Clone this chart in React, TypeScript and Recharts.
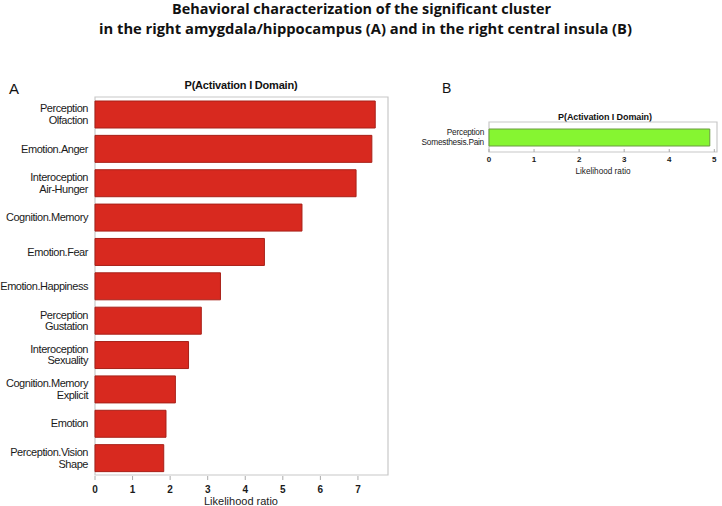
import React from 'react';
import { BarChart, Bar, XAxis, YAxis, ReferenceArea } from 'recharts';

const titleLines = [
  'Behavioral characterization of the significant cluster',
  'in the right amygdala/hippocampus (A) and in the right central insula (B)',
];
const panelTitle = 'P(Activation I Domain)';
const axisLabel = 'Likelihood ratio';

const categoriesA = [
  'Perception\nOlfaction',
  'Emotion.Anger',
  'Interoception\nAir-Hunger',
  'Cognition.Memory',
  'Emotion.Fear',
  'Emotion.Happiness',
  'Perception\nGustation',
  'Interoception\nSexuality',
  'Cognition.Memory\nExplicit',
  'Emotion',
  'Perception.Vision\nShape',
];
const valuesA = [7.46, 7.37, 6.95, 5.51, 4.51, 3.34, 2.83, 2.49, 2.14, 1.89, 1.83];
const ticksA = [0, 1, 2, 3, 4, 5, 6, 7];

const categoriesB = ['Perception\nSomesthesis.Pain'];
const valuesB = [4.9];
const ticksB = [0, 1, 2, 3, 4, 5];

const dataA = categoriesA.map((c, i) => ({ name: c, value: valuesA[i] }));
const dataB = categoriesB.map((c, i) => ({ name: c, value: valuesB[i] }));

const FONT = '"Liberation Sans", Arial, Helvetica, sans-serif';

const makeCatTick = (fontSize: number, lineH: number, spacing: number) => (props: any) => {
  const { x, y, payload } = props;
  const lines = String(payload.value).split('\n');
  const start = y - ((lines.length - 1) * lineH) / 2;
  return (
    <text
      x={x}
      y={start}
      textAnchor="end"
      fontFamily={FONT}
      fontSize={fontSize}
      letterSpacing={spacing}
      fill="#1a1a1a"
      dominantBaseline="central"
    >
      {lines.map((l, i) => (
        <tspan key={i} x={x} y={start + i * lineH}>
          {l}
        </tspan>
      ))}
    </text>
  );
};

export default function App() {
  return (
    <div
      style={{
        position: 'absolute',
        left: 0,
        top: 0,
        width: 722,
        height: 506,
        background: '#fff',
        overflow: 'hidden',
      }}
    >
      <svg width={722} height={506} style={{ position: 'absolute', left: 0, top: 0 }}>
        <text
          x={361.5}
          y={13.5}
          textAnchor="middle"
          fontFamily='"Open Sans", sans-serif'
          fontWeight="bold"
          fontSize={14}
          textLength={379}
          lengthAdjust="spacingAndGlyphs"
          fill="#111"
        >
          {titleLines[0]}
        </text>
        <text
          x={365.5}
          y={33.5}
          textAnchor="middle"
          fontFamily='"Open Sans", sans-serif'
          fontWeight="bold"
          fontSize={14}
          textLength={533}
          lengthAdjust="spacingAndGlyphs"
          fill="#111"
        >
          {titleLines[1]}
        </text>
        <text x={9} y={94} fontFamily={FONT} fontSize={15} fill="#111">
          A
        </text>
        <text x={442} y={93} fontFamily={FONT} fontSize={14} fill="#111">
          B
        </text>
        <text x={241} y={89} textAnchor="middle" fontFamily={FONT} fontWeight="bold" fontSize={11} letterSpacing={-0.2} fill="#111">
          {panelTitle}
        </text>
        <text x={241} y={505} textAnchor="middle" fontFamily={FONT} fontSize={11} fill="#222">
          {axisLabel}
        </text>
        <text x={605} y={120} textAnchor="middle" fontFamily={FONT} fontWeight="bold" fontSize={9} letterSpacing={-0.1} fill="#111">
          {panelTitle}
        </text>
        <text x={603} y={174} textAnchor="middle" fontFamily={FONT} fontSize={8.2} fill="#222">
          {axisLabel}
        </text>
      </svg>

      <div style={{ position: 'absolute', left: 0, top: 0 }}>
        <BarChart
          width={400}
          height={506}
          data={dataA}
          layout="vertical"
          margin={{ top: 92, right: 12, bottom: 0, left: 0 }}
          barSize={27}
        >
          <XAxis
            type="number"
            dataKey="value"
            domain={[0, 7.8]}
            ticks={ticksA}
            height={26}
            tickSize={-4}
            tickMargin={10}
            axisLine={false}
            tickLine={{ stroke: '#aaa' }}
            tick={{ fontFamily: FONT, fontSize: 10, fontWeight: 'bold', fill: '#1a1a1a' }}
          />
          <XAxis
            xAxisId="top"
            orientation="top"
            type="number"
            domain={[0, 7.8]}
            ticks={ticksA}
            height={0}
            tickSize={-4}
            axisLine={false}
            tickLine={{ stroke: '#aaa' }}
            tick={{ fill: 'none', fontSize: 1 }}
          />
          <YAxis
            type="category"
            dataKey="name"
            width={95}
            tickSize={0}
            tickMargin={7}
            axisLine={false}
            tickLine={false}
            interval={0}
            padding={{ top: 5, bottom: 5 }}
            tick={makeCatTick(11, 11.5, -0.45)}
          />
          <ReferenceArea x1={0} x2={7.8} fill="none" stroke="#c8c8c8" strokeWidth={1.2} ifOverflow="visible" />
          <Bar dataKey="value" fill="#d8291f" stroke="#a82018" strokeWidth={1} isAnimationActive={false} />
        </BarChart>
      </div>

      <div style={{ position: 'absolute', left: 400, top: 100 }}>
        <BarChart
          width={322}
          height={72}
          data={dataB}
          layout="vertical"
          margin={{ top: 22, right: 5, bottom: 0, left: 0 }}
          barSize={17}
        >
          <XAxis
            type="number"
            dataKey="value"
            domain={[0, 5.06]}
            ticks={ticksB}
            height={20}
            tickSize={-3}
            tickMargin={7}
            axisLine={false}
            tickLine={{ stroke: '#aaa' }}
            tick={{ fontFamily: FONT, fontSize: 8, fontWeight: 'bold', fill: '#1a1a1a' }}
          />
          <XAxis
            xAxisId="top"
            orientation="top"
            type="number"
            domain={[0, 5.06]}
            ticks={ticksB}
            height={0}
            tickSize={-3}
            axisLine={false}
            tickLine={{ stroke: '#aaa' }}
            tick={{ fill: 'none', fontSize: 1 }}
          />
          <YAxis
            type="category"
            dataKey="name"
            width={89}
            tickSize={0}
            tickMargin={5}
            axisLine={false}
            tickLine={false}
            interval={0}
            tick={makeCatTick(8.3, 10, -0.25)}
          />
          <ReferenceArea x1={0} x2={5.06} fill="none" stroke="#c8c8c8" strokeWidth={1.2} ifOverflow="visible" />
          <Bar dataKey="value" fill="#86f531" stroke="#6a9a40" strokeWidth={1} isAnimationActive={false} />
        </BarChart>
      </div>
    </div>
  );
}
